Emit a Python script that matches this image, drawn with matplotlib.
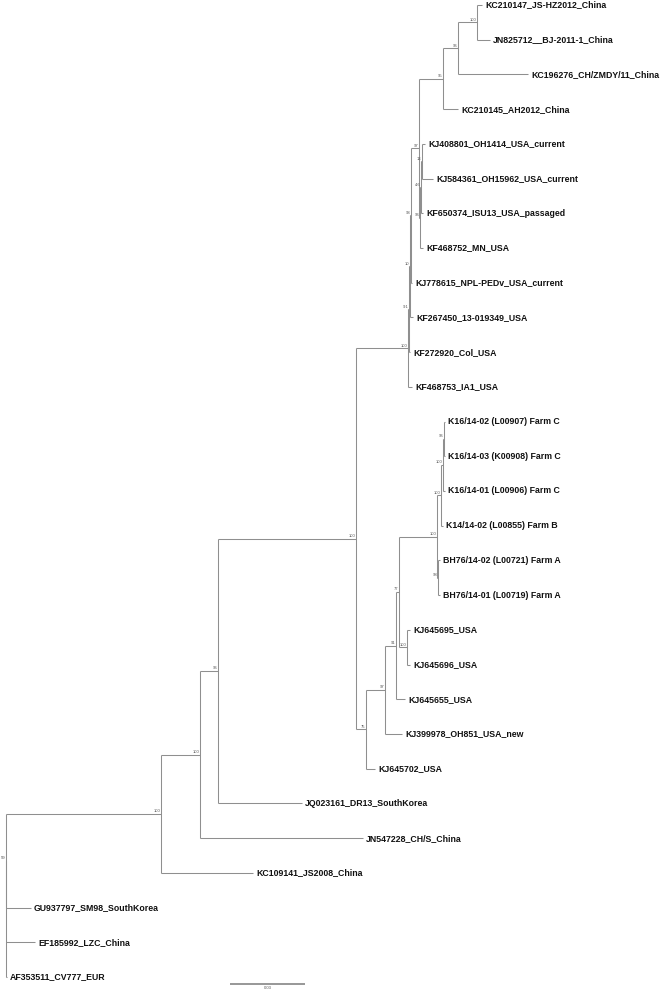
import matplotlib
matplotlib.use("Agg")
import matplotlib.pyplot as plt

# internal nodes of the tree: id, parent, branch length (subst./site), bootstrap support
node_ids = ["root", "a59", "b100", "c100", "d96", "e100",
            "usa100", "usa91", "usa10", "usa93", "usa97",
            "chn95", "chn96", "chn100", "usa96", "usa46", "usa13",
            "f75", "g97", "h91", "i77", "j100",
            "farm100", "k100", "l100", "m96", "bh98"]
node_parent = [None, "root", "a59", "b100", "c100", "d96",
               "e100", "usa100", "usa91", "usa10", "usa93",
               "usa97", "chn95", "chn96", "usa97", "usa96", "usa46",
               "e100", "f75", "g97", "h91", "i77",
               "i77", "farm100", "k100", "l100", "farm100"]
node_len = [0.0, 0.0, 0.0620, 0.0156, 0.0072, 0.0552,
            0.0208, 0.0004, 0.0004, 0.0004, 0.0032,
            0.0096, 0.0060, 0.0076, 0.0004, 0.0004, 0.0004,
            0.0040, 0.0076, 0.0044, 0.0012, 0.0032,
            0.0152, 0.0016, 0.0008, 0.0004, 0.0004]
node_support = [None, 59, 100, 100, 96, 100,
                100, 9.1, 10, 93, 97,
                95, 96, 100, 96, 4.6, 13,
                75, 97, 91, 77, 100,
                100, 100, 100, 96, 98]

# tips, top to bottom
tip_labels = ["KC210147_JS-HZ2012_China", "JN825712__BJ-2011-1_China",
              "KC196276_CH/ZMDY/11_China", "KC210145_AH2012_China",
              "KJ408801_OH1414_USA_current", "KJ584361_OH15962_USA_current",
              "KF650374_ISU13_USA_passaged", "KF468752_MN_USA",
              "KJ778615_NPL-PEDv_USA_current", "KF267450_13-019349_USA",
              "KF272920_Col_USA", "KF468753_IA1_USA",
              "K16/14-02 (L00907) Farm C", "K16/14-03 (K00908) Farm C",
              "K16/14-01 (L00906) Farm C", "K14/14-02 (L00855) Farm B",
              "BH76/14-02 (L00721) Farm A", "BH76/14-01 (L00719) Farm A",
              "KJ645695_USA", "KJ645696_USA", "KJ645655_USA",
              "KJ399978_OH851_USA_new", "KJ645702_USA",
              "JQ023161_DR13_SouthKorea", "JN547228_CH/S_China",
              "KC109141_JS2008_China", "GU937797_SM98_SouthKorea",
              "EF185992_LZC_China", "AF353511_CV777_EUR"]
tip_parent = ["chn100", "chn100", "chn96", "chn95",
              "usa13", "usa13", "usa46", "usa96",
              "usa93", "usa10", "usa91", "usa100",
              "m96", "m96", "l100", "k100", "bh98", "bh98",
              "j100", "j100", "h91", "g97", "f75",
              "d96", "c100", "b100", "a59", "root", "root"]
tip_len = [0.0020, 0.0052, 0.0280, 0.0060,
           0.0012, 0.0044, 0.0008, 0.0012,
           0.0004, 0.0012, 0.0004, 0.0016,
           0.0004, 0.0004, 0.0008, 0.0008, 0.0008, 0.0008,
           0.0012, 0.0012, 0.0036, 0.0068, 0.0036,
           0.0336, 0.0652, 0.0368, 0.0100, 0.0116, 0.0004]

scale_len = 0.03

# ---- layout ----
parent = dict(zip(node_ids, node_parent))
blen = dict(zip(node_ids, node_len))
parent.update(zip(tip_labels, tip_parent))
blen.update(zip(tip_labels, tip_len))

children = {n: [] for n in node_ids}
for n in node_ids[1:] + tip_labels:
    children[parent[n]].append(n)

xpos = {}
def get_x(n):
    if n not in xpos:
        p = parent[n]
        xpos[n] = blen[n] + (get_x(p) if p else 0.0)
    return xpos[n]

ypos = {t: i for i, t in enumerate(tip_labels)}
def get_y(n):
    if n not in ypos:
        ys = [get_y(c) for c in children[n]]
        ypos[n] = sum(ys) / len(ys)
    return ypos[n]

for n in node_ids + tip_labels:
    get_x(n)
    get_y(n)

fig = plt.figure(figsize=(6.6, 9.92), dpi=100)
ax = fig.add_axes([0, 0, 1, 1])
px = 1 / 2500.0          # data units per pixel horizontally
ystep = 34.714           # pixels per tip
ax.set_xlim(-6 * px, 654 * px)
ax.set_ylim((992 - 5) / ystep, -5 / ystep)
ax.axis("off")

line_col = "#8f8f8f"
for n in node_ids[1:] + tip_labels:
    p = parent[n]
    ax.plot([xpos[p], xpos[n]], [ypos[n], ypos[n]], color=line_col, lw=0.75,
            solid_capstyle="butt")
for n in node_ids:
    ys = [ypos[c] for c in children[n]]
    ax.plot([xpos[n], xpos[n]], [min(ys), max(ys)], color=line_col, lw=0.75,
            solid_capstyle="butt")

for t in tip_labels:
    ax.annotate(t, (xpos[t], ypos[t]), xytext=(2.2, 0), textcoords="offset points",
                ha="left", va="center", fontsize=6.3, fontweight="bold",
                family="Liberation Sans", color="#111111")

for n, s in zip(node_ids, node_support):
    if s is None:
        continue
    ax.annotate("%g" % s, (xpos[n], ypos[n]), xytext=(-0.5, 0.4),
                textcoords="offset points", ha="right", va="bottom",
                fontsize=3.0, color="#555555", family="Liberation Sans")

# scale bar
sb_x0 = 224 * px
sb_y = (984 - 5) / ystep
ax.plot([sb_x0, sb_x0 + scale_len], [sb_y, sb_y], color=line_col, lw=1.3,
        solid_capstyle="butt")
ax.annotate("%g" % scale_len, (sb_x0 + scale_len / 2, sb_y), xytext=(0, -1.5),
            textcoords="offset points", ha="center", va="top", fontsize=3.0,
            color="#555555", family="Liberation Sans")

fig.savefig("out.png", dpi=100, facecolor="white")
